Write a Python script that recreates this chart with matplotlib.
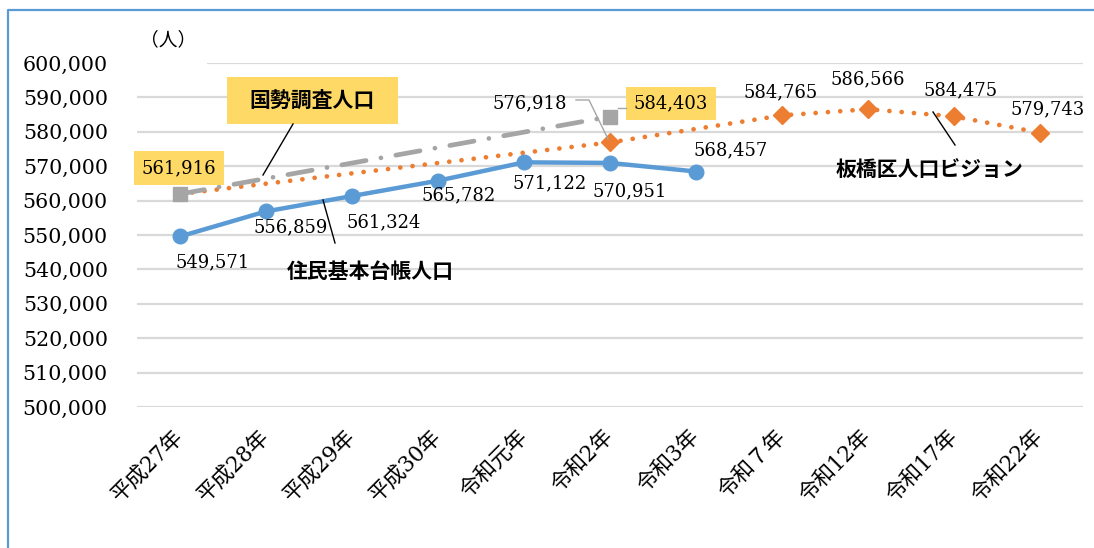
import numpy as np
import matplotlib
matplotlib.use("Agg")
import matplotlib.pyplot as plt
from matplotlib.patches import Rectangle
from matplotlib.lines import Line2D

# ---- data ----
categories = ["平成27年", "平成28年", "平成29年", "平成30年", "令和元年", "令和2年",
              "令和3年", "令和７年", "令和12年", "令和17年", "令和22年"]
juki = [549571, 556859, 561324, 565782, 571122, 570951, 568457,
        None, None, None, None]
kokusei = [561916, None, None, None, None, 584403,
           None, None, None, None, None]
vision = [561916, None, None, None, None, 576918,
          None, 584765, 586566, 584475, 579743]
yticks = list(range(500000, 600001, 10000))

BLUE = "#5B9BD5"
GRAY = "#A5A5A5"
ORANGE = "#ED7D31"
YELLOW = "#FFD966"
SERIF = ["DejaVu Serif", "Noto Sans CJK JP"]
SANS = ["Noto Sans CJK JP", "DejaVu Sans"]

W, H = 1094, 548
fig = plt.figure(figsize=(W / 100, H / 100), dpi=100)
ax = fig.add_axes([137 / W, 1 - 407 / H, (1083 - 137) / W, (407 - 63) / H])

def fx(px):
    return px / W

def fy(py):
    return 1 - py / H

def series(vals):
    xs = [i for i, v in enumerate(vals) if v is not None]
    ys = [v for v in vals if v is not None]
    return xs, ys

# orange vision (dotted, diamonds)
vx, vy = series(vision)
ax.plot(vx, vy, color=ORANGE, lw=3.4, dashes=(0.01, 2.6), dash_capstyle="round",
        zorder=3)
ax.plot(vx[1:], vy[1:], ls="none", marker="D", ms=9.5, color=ORANGE, zorder=4)

# gray census (long dash dot, squares)
kx, ky = series(kokusei)
ax.plot(kx, ky, color=GRAY, lw=3.4, dashes=(5.2, 3.2, 0.01, 3.2),
        dash_capstyle="round", zorder=5)
ax.plot(kx, ky, ls="none", marker="s", ms=10.5, color=GRAY, zorder=6)

# blue resident registry
jx, jy = series(juki)
ax.plot(jx, jy, color=BLUE, lw=3.2, marker="o", ms=10.5, zorder=7,
        solid_joinstyle="round")

ax.set_xlim(-0.5, len(categories) - 0.5)
ax.set_ylim(500000, 600000)
ax.set_yticks(yticks)
ax.set_yticklabels([f"{v:,}" for v in yticks], fontfamily=SERIF, fontsize=14.8)
ax.set_xticks(range(len(categories)))
ax.set_xticklabels(categories, fontfamily=SERIF, fontsize=15.5, rotation=45,
                   ha="right", va="center", rotation_mode="anchor")
ax.tick_params(axis="y", length=0, pad=21)
ax.tick_params(axis="x", length=0, pad=19)
ax.grid(axis="y", color="#D9D9D9", lw=1.6)
ax.set_axisbelow(True)
for s in ax.spines.values():
    s.set_visible(False)

# ---- data labels (offsets in pixels, y up) ----
def lab(x, y, dx, dy, text, box=False):
    kw = dict(textcoords="offset pixels", ha="center", va="center",
              fontfamily=SERIF, fontsize=13, color="black", zorder=10)
    if box:
        kw["bbox"] = dict(boxstyle="square,pad=0.42", fc=YELLOW, ec="none")
    ax.annotate(text, (x, y), xytext=(dx, dy), **kw)

juki_off = [(33, -26), (25, -16), (32, -26), (21, -15), (26, -21), (20, -28), (35, 21)]
for i, (x, y) in enumerate(zip(jx, jy)):
    lab(x, y, *juki_off[i], f"{y:,}")

vis_off = [None, (-80, 39), (-1, 23), (0, 30), (7, 26), (8, 23)]
for i, (x, y) in enumerate(zip(vx, vy)):
    if vis_off[i] is not None:
        lab(x, y, *vis_off[i], f"{y:,}")

kok_off = [(-1, 26), (61, 13)]
for i, (x, y) in enumerate(zip(kx, ky)):
    lab(x, y, *kok_off[i], f"{y:,}", box=True)

# leader for 576,918
fig.add_artist(Line2D([fx(576), fx(589), fx(608)], [fy(100), fy(100), fy(139)],
                      color="#A6A6A6", lw=1.0, zorder=9))
fig.add_artist(Line2D([fx(618), fx(626)], [fy(108), fy(108)],
                      color="#A6A6A6", lw=1.0, zorder=9))

# ---- series name callouts ----
fig.add_artist(Rectangle((fx(227), fy(124)), fx(398) - fx(227), fy(77) - fy(124),
                         fc=YELLOW, ec="none", zorder=8))
fig.text(fx(312), fy(100), "国勢調査人口", ha="center", va="center",
         fontfamily=SANS, fontweight="bold", fontsize=15, zorder=9)
fig.add_artist(Line2D([fx(293), fx(263)], [fy(124), fy(175)], color="black", lw=1.0, zorder=9))

fig.text(fx(370), fy(271), "住民基本台帳人口", ha="center", va="center",
         fontfamily=SANS, fontweight="bold", fontsize=15, zorder=9)
fig.add_artist(Line2D([fx(323), fx(335)], [fy(200), fy(243)], color="black", lw=1.0, zorder=9))

fig.text(fx(930), fy(170), "板橋区人口ビジョン", ha="center", va="center",
         fontfamily=SANS, fontweight="bold", fontsize=15, zorder=9)
fig.add_artist(Line2D([fx(933), fx(955)], [fy(112), fy(145)], color="black", lw=1.0, zorder=9))

# unit label with white background over the top gridline
fig.text(fx(140), fy(40), "（人）", ha="left", va="center", fontfamily=SANS,
         fontsize=13.5, zorder=9)
fig.add_artist(Rectangle((fx(137), fy(70)), fx(207) - fx(137), fy(56) - fy(70),
                         fc="white", ec="none", zorder=2))

# outer frame (left and top edges)
fig.add_artist(Line2D([fx(8), fx(8), fx(1094)], [fy(548), fy(10), fy(10)],
                      color=BLUE, lw=1.6))

fig.savefig("out.png", dpi=100)
